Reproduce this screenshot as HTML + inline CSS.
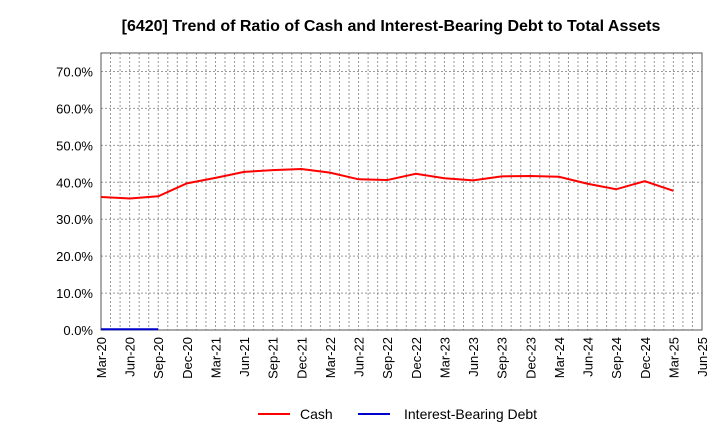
<!DOCTYPE html>
<html><head><meta charset="utf-8"><style>body{margin:0;background:#fff}svg{font-family:"Liberation Sans",sans-serif}</style></head>
<body>
<svg id="c" width="720" height="440">
<text x="391" y="31" text-anchor="middle" font-size="16" font-weight="bold">[6420]  Trend of Ratio of Cash and Interest-Bearing Debt to Total Assets</text>
<g id="grid"></g><g id="axes"></g><g id="series"></g>
<g>
<line x1="258" y1="414" x2="290" y2="414" stroke="#f00" stroke-width="2"/>
<text x="300" y="419" font-size="14">Cash</text>
<line x1="358" y1="414" x2="390" y2="414" stroke="#00c" stroke-width="2"/>
<text x="404" y="419" font-size="14">Interest-Bearing Debt</text>
</g>
</svg>
<script>
const categories=["Mar-20","Jun-20","Sep-20","Dec-20","Mar-21","Jun-21","Sep-21","Dec-21","Mar-22","Jun-22","Sep-22","Dec-22","Mar-23","Jun-23","Sep-23","Dec-23","Mar-24","Jun-24","Sep-24","Dec-24","Mar-25","Jun-25"];
const cash=[36.0,35.6,36.2,39.7,41.2,42.8,43.3,43.6,42.6,40.8,40.6,42.3,41.1,40.5,41.6,41.7,41.5,39.6,38.1,40.3,37.7];
const debt=[0.2,0.2,0.2];
const yTicks=[0,10,20,30,40,50,60,70];
const L=101,R=702,T=53,B=330,YMAX=75;
const ns="http://www.w3.org/2000/svg";
const x=i=>L+(R-L)*i/(categories.length-1);
const y=v=>B-(B-T)*v/YMAX;
function mk(t,a,p){const e=document.createElementNS(ns,t);for(const k in a)e.setAttribute(k,a[k]);document.getElementById(p).appendChild(e);return e;}
for(let m=1;m<(categories.length-1)*3;m++){const xx=L+(R-L)*m/((categories.length-1)*3);
const g=mk('line',{x1:xx,x2:xx,y1:T,y2:B,stroke:'#999','stroke-dasharray':'2,2','stroke-width':1},'grid');

}
yTicks.forEach(v=>{if(v>0){const g=mk('line',{x1:L,x2:R,y1:y(v),y2:y(v),stroke:'#999','stroke-dasharray':'2,2'},'grid');

}
const t=mk('text',{x:L-8,y:y(v)+5,'text-anchor':'end','font-size':13},'axes');t.textContent=v.toFixed(1)+'%';

});
const fr=mk('rect',{x:L,y:T,width:R-L,height:B-T,fill:'none',stroke:'#555'},'axes');


categories.forEach((c,i)=>{const t=mk('text',{x:0,y:0,'text-anchor':'end','font-size':13,transform:`translate(${x(i)+5},${B+7}) rotate(-90)`},'axes');t.textContent=c;

});
const p1=mk('polyline',{points:cash.map((v,i)=>x(i)+','+y(v)).join(' '),fill:'none',stroke:'#f00','stroke-width':2},'series');


const p2=mk('polyline',{points:debt.map((v,i)=>x(i)+','+y(v)).join(' '),fill:'none',stroke:'#00c','stroke-width':2},'series');


</script>
</body></html>
